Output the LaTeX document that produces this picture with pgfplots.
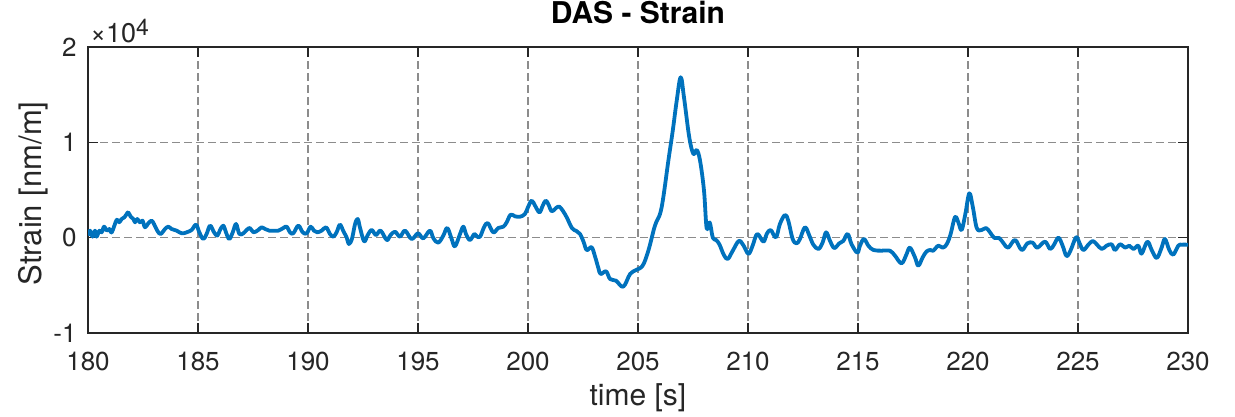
\documentclass[border=0pt]{standalone}
\usepackage{fontspec}
\setmainfont{TeX Gyre Heros}
\usepackage{pgfplots}
\pgfplotsset{compat=1.18}
\usepackage{pgfplotstable}

\definecolor{axisgray}{HTML}{262626}
\definecolor{gridgray}{HTML}{8C8C8C}
\definecolor{mblue}{HTML}{0072BD}

% DAS strain trace: time [s], strain [nm/m]
\pgfplotstableread{
t strain
180.00 210
180.09 735
180.21 105
180.32 735
180.39 105
180.52 735
180.62 560
180.73 1154
180.85 735
180.97 910
181.08 560
181.30 1854
181.42 1609
181.53 1959
181.65 2133
181.76 2483
181.83 2658
181.94 2203
182.06 1959
182.14 1609
182.24 1959
182.36 1609
182.48 1784
182.59 1084
182.74 1504
182.89 1784
183.00 1434
183.15 735
183.30 385
183.50 910
183.65 1154
183.80 910
184.03 735
184.26 455
184.48 560
184.71 805
184.91 1364
185.06 560
185.24 -140
185.39 385
185.55 1259
185.73 560
185.88 210
186.00 805
186.15 1259
186.27 560
186.42 -140
186.58 560
186.73 1434
186.88 385
187.06 455
187.21 805
187.36 1014
187.52 560
187.74 805
187.89 1084
188.05 910
188.24 735
188.42 735
188.65 735
188.88 1014
189.03 1154
189.18 560
189.33 455
189.56 1259
189.76 560
189.94 455
190.12 1154
190.27 735
190.42 560
190.62 735
190.82 1084
191.00 385
191.15 105
191.30 560
191.45 1364
191.61 665
191.76 0
191.86 -665
192.00 -100
192.14 1434
192.26 1959
192.36 1084
192.55 -385
192.70 210
192.89 805
193.09 280
193.30 735
193.58 -245
193.73 210
193.95 630
194.18 105
194.41 735
194.71 -140
195.00 455
195.24 -70
195.54 735
195.70 -70
195.92 -525
196.15 210
196.33 1014
196.53 -140
196.68 -910
196.91 385
197.06 1154
197.18 385
197.36 -245
197.56 385
197.67 140
197.82 105
198.00 1084
198.17 1539
198.42 560
198.65 1014
198.88 1154
199.03 1609
199.21 2413
199.41 2238
199.64 2203
199.86 2483
200.01 3253
200.17 3882
200.32 3358
200.52 2658
200.67 3358
200.80 3882
200.92 3533
201.08 2763
201.27 3113
201.42 3253
201.58 2833
201.76 2133
202.00 1000
202.20 700
202.36 400
202.52 -400
202.67 -1300
202.89 -1000
203.05 -2000
203.20 -3200
203.30 -3812
203.55 -3533
203.73 -4337
204.00 -4512
204.33 -5142
204.64 -3812
204.91 -3392
205.21 -2938
205.47 -1364
205.77 1259
206.00 2483
206.15 4232
206.38 8080
206.58 11228
206.76 14375
206.94 16824
207.09 14725
207.33 10527
207.52 8779
207.67 9199
207.82 8080
208.00 4932
208.12 1000
208.26 1600
208.40 0
208.55 -245
208.70 -700
208.90 -1800
209.08 -2238
209.30 -1399
209.58 -350
209.79 -800
210.02 -1700
210.21 -839
210.42 385
210.70 -420
210.85 385
211.03 805
211.27 35
211.45 1434
211.68 2378
211.83 1784
212.03 -140
212.21 -595
212.36 -140
212.59 1084
212.79 210
212.97 -735
213.20 -1189
213.39 -525
213.55 560
213.73 -350
213.92 -1084
214.15 -595
214.33 -350
214.53 385
214.71 -700
214.97 -1574
215.09 -839
215.27 -140
215.47 -839
215.70 -1294
216.08 -1364
216.45 -1364
216.68 -1889
216.98 -2693
217.21 -1714
217.36 -1049
217.59 -2064
217.74 -2938
217.94 -2064
218.12 -1434
218.30 -1294
218.42 -1364
218.65 -839
218.85 -1049
219.03 -700
219.20 300
219.41 2150
219.56 1609
219.71 800
219.88 2500
220.06 4650
220.22 3200
220.40 1000
220.62 805
220.82 1014
221.00 560
221.20 -35
221.42 -35
221.64 -665
221.83 -1049
222.14 -245
222.44 -1294
222.70 -595
222.94 -525
223.15 -1049
223.50 -420
223.73 -1189
223.91 -735
224.11 0
224.30 -839
224.48 -1924
224.67 -1294
224.91 35
225.06 -525
225.24 -1294
225.47 -735
225.67 -350
225.85 -700
226.08 -1189
226.30 -839
226.53 -700
226.68 -1294
226.91 -700
227.14 -1049
227.33 -839
227.52 -1189
227.74 -839
227.89 -1679
228.15 -420
228.35 -1294
228.58 -2133
228.80 -1049
228.95 -140
229.15 -1294
229.33 -1784
229.56 -839
229.71 -735
229.94 -735
230.00 -735
}\straindata

\begin{document}
\begin{tikzpicture}
\useasboundingbox (-44pt,-42pt) rectangle (573.5pt,166.5pt);
\begin{axis}[
  name=ax,
  at={(0,0)}, anchor=south west,
  scale only axis,
  width=550pt, height=143pt,
  xmin=180, xmax=230,
  ymin=-10000, ymax=20000,
  xtick={180,185,...,230},
  ytick={-10000,0,10000,20000},
  yticklabels={-1,0,1,2},
  scaled y ticks=false,
  /pgf/number format/assume math mode=true,
  /pgf/number format/1000 sep={},
  tick align=inside,
  major tick length=5pt,
  xtick pos=both, ytick pos=both,
  axis line style={axisgray, line width=0.7pt},
  tick style={axisgray, line width=0.7pt},
  grid=major,
  major grid style={gridgray, line width=0.6pt, dash pattern=on 4pt off 2pt},
  tick label style={font=\fontsize{13}{15}\selectfont, text=axisgray},
  xticklabel style={inner sep=0pt, anchor=north, yshift=-9.3pt},
  yticklabel style={inner sep=0pt, anchor=east, xshift=-5.5pt},
  title={\textbf{DAS - Strain}},
  title style={at={(axis description cs:0.5,1)}, anchor=base, yshift=6pt,
    inner sep=0pt, font=\fontsize{15}{17}\selectfont, text=black},
  xlabel={time [s]},
  xlabel style={at={(axis description cs:0.5,-0.1748)}, anchor=north,
    inner sep=0pt, font=\fontsize{15}{17}\selectfont, text=axisgray},
  ylabel={Strain [nm/m]},
  ylabel style={at={(axis description cs:-0.0636,0.488)}, anchor=north,
    inner sep=0pt, font=\fontsize{15.5}{17}\selectfont, text=axisgray},
]
\addplot[mblue, line width=1.9pt, line join=round, smooth, tension=0.6]
  table[x=t, y=strain] {\straindata};
\end{axis}
% common exponent of the strain axis
\node[anchor=base west, inner sep=0pt, text=axisgray]
  at ([xshift=1pt, yshift=2.5pt]ax.north west)
  {\fontsize{13.5}{15}\selectfont ×10\raisebox{3.2pt}{\fontsize{11.5}{13}\selectfont 4}};
\end{tikzpicture}
\end{document}
